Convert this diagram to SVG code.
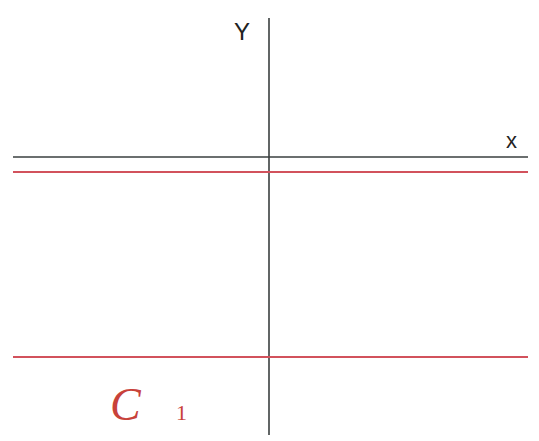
<svg xmlns="http://www.w3.org/2000/svg" width="539" height="441" viewBox="0 0 539 441">
<style>
.axis{stroke:#3a3f3f;stroke-width:1.6;fill:none}
.red{stroke:#d2525c;stroke-width:2;fill:none}
.lbl{font-family:"Liberation Sans",sans-serif;fill:#222}
.rl{font-family:"Liberation Serif",serif;fill:#c8423a}
</style>
<rect width="539" height="441" fill="#fff"/>
<g id="axes">
<line class="axis" x1="269" y1="18" x2="269" y2="435"/>
<line class="axis" x1="13" y1="157" x2="528" y2="157"/>
</g>
<g id="lines">
<line class="red" x1="13" y1="172" x2="528" y2="172"/>
<line class="red" x1="13" y1="357" x2="528" y2="357"/>
</g>
<g id="labels">
<text class="lbl" x="234" y="40" font-size="24">Y</text>
<text class="lbl" x="506" y="148" font-size="22">x</text>
<text class="rl" x="110" y="420" font-size="46" style="font-style:italic">C</text>
<text class="rl" x="176" y="420" font-size="22">1</text>
</g>
</svg>
